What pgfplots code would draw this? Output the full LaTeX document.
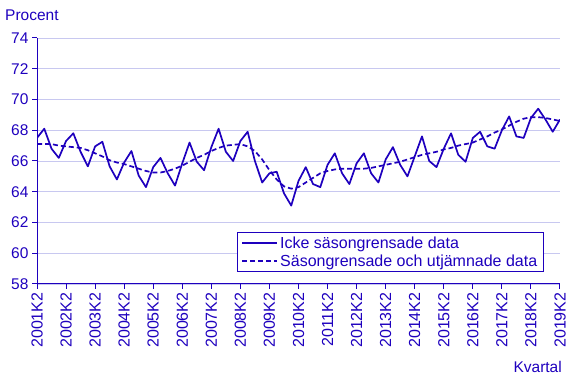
\documentclass[border=0pt]{standalone}
\usepackage{fontspec}
\setmainfont{Liberation Sans}
\usepackage{pgfplots}
\pgfplotsset{compat=1.18}
\usepackage{pgfplotstable}
\definecolor{scb}{HTML}{1E00BE}
\definecolor{gridc}{HTML}{C8C8F0}

\pgfplotstableread{
i raw trend
0 67.5 67.1
1 68.1 67.1
2 66.8 67.1
3 66.2 67.0
4 67.3 66.95
5 67.8 66.9
6 66.6 66.85
7 65.65 66.7
8 66.95 66.5
9 67.25 66.3
10 65.65 66.05
11 64.8 65.9
12 65.9 65.8
13 66.65 65.65
14 65.05 65.5
15 64.3 65.35
16 65.6 65.25
17 66.2 65.25
18 65.2 65.35
19 64.4 65.5
20 65.85 65.7
21 67.2 65.95
22 65.95 66.2
23 65.4 66.4
24 66.9 66.65
25 68.1 66.85
26 66.6 67.0
27 66.0 67.05
28 67.3 67.1
29 67.9 66.95
30 66.0 66.65
31 64.6 66.1
32 65.2 65.4
33 65.3 64.8
34 63.9 64.35
35 63.1 64.2
36 64.7 64.3
37 65.6 64.6
38 64.5 64.9
39 64.3 65.2
40 65.75 65.35
41 66.5 65.45
42 65.2 65.5
43 64.5 65.5
44 65.85 65.5
45 66.5 65.5
46 65.2 65.55
47 64.6 65.65
48 66.1 65.75
49 66.9 65.85
50 65.75 65.95
51 65.0 66.1
52 66.3 66.25
53 67.6 66.4
54 66.0 66.5
55 65.6 66.6
56 66.8 66.75
57 67.8 66.85
58 66.4 67.0
59 65.95 67.1
60 67.5 67.2
61 67.9 67.4
62 66.95 67.6
63 66.8 67.85
64 68.0 68.05
65 68.9 68.3
66 67.6 68.55
67 67.5 68.75
68 68.8 68.85
69 69.4 68.85
70 68.7 68.8
71 67.9 68.7
72 68.7 68.6
}\data

\begin{document}
\begin{tikzpicture}[x=1pt,y=1pt]
\path[use as bounding box] (0,0) rectangle (568,379);
\begin{axis}[
  at={(37pt,95pt)}, anchor=south west,
  scale only axis, width=523pt, height=246pt,
  xmin=0, xmax=72, ymin=58, ymax=74,
  axis x line=bottom, axis y line=left,
  axis line style={-, scb, line width=1pt},
  xtick={0,4,...,72},
  xticklabels={2001K2,2002K2,2003K2,2004K2,2005K2,2006K2,2007K2,2008K2,2009K2,2010K2,2011K2,2012K2,2013K2,2014K2,2015K2,2016K2,2017K2,2018K2,2019K2},
  x tick label style={rotate=90, anchor=east, font=\fontsize{16}{19}\selectfont},
  y tick label style={font=\fontsize{15.5}{18}\selectfont},
  ytick={58,60,...,74},
  ymajorgrids, grid style={gridc, line width=0.9pt},
  tick align=outside, major tick length=5pt,
  tick style={scb, line width=1pt},
  tick label style={text=scb},
  /pgf/number format/assume math mode=true,
  legend style={at={(axis description cs:0.969,0.211)}, anchor=north east,
    draw=scb, line width=1pt, font=\fontsize{16}{19}\selectfont, text=scb,
    inner xsep=4pt, inner ysep=2pt, row sep=1pt},
  legend cell align=left,
  legend image code/.code={\draw[#1] (0pt,0pt) -- (35pt,0pt);},
]
\addplot[scb, line width=1.7pt, line join=round] table[x=i, y=raw] {\data};
\addlegendentry{Icke säsongrensade data}
\addplot[scb, line width=1.7pt, dash pattern=on 5pt off 3pt] table[x=i, y=trend] {\data};
\addlegendentry{Säsongrensade och utjämnade data}
\end{axis}
\node[anchor=west, text=scb, font=\fontsize{15.5}{18}\selectfont, inner sep=0pt] at (5,364) {Procent};
\node[anchor=east, text=scb, font=\fontsize{15.5}{18}\selectfont, inner sep=0pt] at (562,12) {Kvartal};
\end{tikzpicture}
\end{document}
